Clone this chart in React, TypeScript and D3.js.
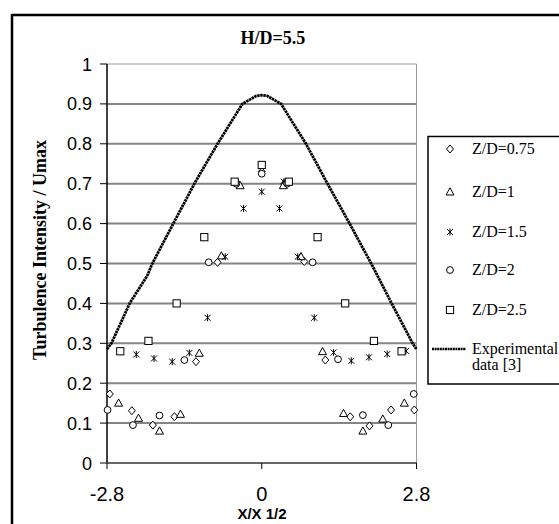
import React from "react";
import * as d3 from "d3";

const title = "H/D=5.5";
const yTicks = [0, 0.1, 0.2, 0.3, 0.4, 0.5, 0.6, 0.7, 0.8, 0.9, 1];
const xTicks = [-2.8, 0, 2.8];

const zd075X = [-2.75, -2.35, -1.97, -1.58, -1.19, -0.8, -0.43, 0, 0.41, 0.77, 1.15, 1.6, 1.95, 2.34, 2.76];
const zd075Y = [0.173, 0.131, 0.095, 0.116, 0.254, 0.503, 0.7, 0.73, 0.7, 0.505, 0.258, 0.116, 0.093, 0.133, 0.133];

const zd1X = [-2.59, -2.23, -1.85, -1.47, -1.13, -0.73, -0.39, 0.39, 0.71, 1.1, 1.48, 1.83, 2.19, 2.58];
const zd1Y = [0.15, 0.112, 0.08, 0.122, 0.275, 0.519, 0.695, 0.695, 0.517, 0.279, 0.124, 0.08, 0.11, 0.15];

const zd15X = [-2.56, -2.27, -1.95, -1.62, -1.31, -0.98, -0.66, -0.33, 0, 0.32, 0.4, 0.65, 0.95, 1.3, 1.62, 1.94, 2.27, 2.61];
const zd15Y = [0.28, 0.272, 0.262, 0.254, 0.276, 0.364, 0.517, 0.638, 0.68, 0.638, 0.705, 0.517, 0.364, 0.277, 0.256, 0.265, 0.273, 0.281];

const zd2X = [-2.79, -2.33, -1.85, -1.4, -0.96, -0.46, 0, 0.46, 0.92, 1.38, 1.83, 2.29, 2.75];
const zd2Y = [0.133, 0.095, 0.119, 0.258, 0.503, 0.7, 0.725, 0.7, 0.503, 0.26, 0.12, 0.095, 0.173];

const zd25X = [-2.56, -2.05, -1.54, -1.04, -0.49, 0, 0.49, 1.01, 1.51, 2.03, 2.53];
const zd25Y = [0.28, 0.306, 0.4, 0.566, 0.705, 0.747, 0.705, 0.566, 0.4, 0.306, 0.28];

const expX = [-2.8, -2.72, -2.39, -2.07, -1.98, -1.6, -1.22, -0.8, -0.35, -0.2, -0.1, 0, 0.1, 0.2, 0.35, 0.8, 1.19, 1.59, 1.98, 2.35, 2.73, 2.8];
const expY = [0.285, 0.3, 0.4, 0.47, 0.5, 0.6, 0.7, 0.8, 0.9, 0.912, 0.92, 0.922, 0.92, 0.912, 0.9, 0.8, 0.7, 0.6, 0.5, 0.4, 0.3, 0.285];

const legendLabels = ["Z/D=0.75", "Z/D=1", "Z/D=1.5", "Z/D=2", "Z/D=2.5"];

const SERIF = "'Liberation Serif', 'Times New Roman', Times, serif";
const SANS = "'Liberation Sans', Arial, Helvetica, sans-serif";

type Shape = "diamond" | "triangle" | "asterisk" | "circle" | "square";

function Marker({ shape, x, y }: { shape: Shape; x: number; y: number }) {
  const st = { fill: "#fff", stroke: "#000", strokeWidth: 1 } as const;
  if (shape === "diamond") {
    return <path d={`M${x},${y - 4}L${x + 3.5},${y}L${x},${y + 4}L${x - 3.5},${y}Z`} {...st} />;
  }
  if (shape === "triangle") {
    return <path d={`M${x},${y - 4.2}L${x + 4},${y + 3}L${x - 4},${y + 3}Z`} {...st} />;
  }
  if (shape === "square") {
    return <rect x={x - 3.6} y={y - 3.6} width={7.2} height={7.2} {...st} />;
  }
  if (shape === "circle") {
    return <circle cx={x} cy={y} r={3.4} {...st} />;
  }
  return (
    <path
      d={`M${x - 3},${y - 3}L${x + 3},${y + 3}M${x - 3},${y + 3}L${x + 3},${y - 3}M${x},${y - 3.5}L${x},${y + 3.5}`}
      stroke="#000"
      strokeWidth={1}
      fill="none"
    />
  );
}

export default function App() {
  const left = 107, right = 416.5, top = 64, bottom = 463;
  const x = d3.scaleLinear().domain([-2.8, 2.8]).range([left, right]);
  const y = d3.scaleLinear().domain([0, 1]).range([bottom, top]);

  const series: { xs: number[]; ys: number[]; shape: Shape }[] = [
    { xs: zd075X, ys: zd075Y, shape: "diamond" },
    { xs: zd1X, ys: zd1Y, shape: "triangle" },
    { xs: zd15X, ys: zd15Y, shape: "asterisk" },
    { xs: zd2X, ys: zd2Y, shape: "circle" },
    { xs: zd25X, ys: zd25Y, shape: "square" },
  ];

  const line = d3
    .line<number>()
    .x((_, i) => x(expX[i]))
    .y((d) => y(d));

  const legendY = [149, 192, 232, 270, 310];

  return (
    <svg width={559} height={524} style={{ position: "absolute", left: 0, top: 0, background: "#fff" }}>
      <rect x={0} y={0} width={559} height={524} fill="#fff" />
      {/* outer border */}
      <line x1={12} y1={15} x2={570} y2={15} stroke="#000" strokeWidth={2.5} />
      <line x1={12} y1={14} x2={12} y2={530} stroke="#000" strokeWidth={2.5} />

      {/* title */}
      <text x={273} y={44} textAnchor="middle" style={{ fontFamily: SERIF, fontWeight: 700, fontSize: 18 }}>
        {title}
      </text>

      {/* gridlines */}
      {yTicks.filter((t) => t > 0).map((t) => (
        <line key={t} x1={left} x2={right} y1={y(t)} y2={y(t)} stroke={t === 1 ? "#999" : "#858585"} strokeWidth={t === 1 ? 1 : 2} />
      ))}
      <line x1={right} x2={right} y1={top} y2={bottom} stroke="#999" strokeWidth={1} />

      {/* axes */}
      <line x1={left} x2={left} y1={top} y2={bottom} stroke="#000" strokeWidth={1.5} />
      <line x1={left} x2={right} y1={bottom} y2={bottom} stroke="#333" strokeWidth={1.5} />
      {yTicks.map((t) => (
        <g key={t}>
          <line x1={left - 7} x2={left} y1={y(t)} y2={y(t)} stroke="#000" strokeWidth={1} />
          <text x={92} y={y(t) + 6.5} textAnchor="end" style={{ fontFamily: SANS, fontSize: 18 }}>
            {String(t)}
          </text>
        </g>
      ))}
      {xTicks.map((t) => (
        <g key={t}>
          <line x1={x(t)} x2={x(t)} y1={bottom} y2={bottom + 6} stroke="#000" strokeWidth={1} />
          <text x={x(t)} y={501} textAnchor="middle" style={{ fontFamily: SANS, fontSize: 20 }}>
            {String(t)}
          </text>
        </g>
      ))}

      {/* axis titles */}
      <text x={262} y={519} textAnchor="middle" style={{ fontFamily: SANS, fontWeight: 700, fontSize: 15 }}>
        X/X 1/2
      </text>
      <text
        transform={`translate(46,250) rotate(-90)`}
        textAnchor="middle"
        style={{ fontFamily: SERIF, fontWeight: 700, fontSize: 18 }}
      >
        Turbulence Intensity / Umax
      </text>

      {/* experimental curve */}
      <path d={line(expY) || ""} fill="none" stroke="#000" strokeWidth={2.8} strokeDasharray="2.5,0.6" />

      {/* series markers */}
      {series.map((s, si) =>
        s.xs.map((xv, i) => <Marker key={`${si}-${i}`} shape={s.shape} x={x(xv)} y={y(s.ys[i])} />)
      )}

      {/* legend */}
      <rect x={428} y={136.5} width={150} height={247.5} fill="#fff" stroke="#000" strokeWidth={1.5} />
      {legendLabels.map((lab, i) => (
        <g key={lab}>
          <Marker shape={series[i].shape} x={450} y={legendY[i]} />
          <text x={472} y={legendY[i] + 5} style={{ fontFamily: SERIF, fontSize: 16 }}>
            {lab}
          </text>
        </g>
      ))}
      <line x1={432} x2={466} y1={349} y2={349} stroke="#000" strokeWidth={2.4} strokeDasharray="2,0.6" />
      <text x={472} y={354} style={{ fontFamily: SERIF, fontSize: 16 }}>
        Experimental
      </text>
      <text x={472} y={370} style={{ fontFamily: SERIF, fontSize: 16 }}>
        data [3]
      </text>
    </svg>
  );
}
